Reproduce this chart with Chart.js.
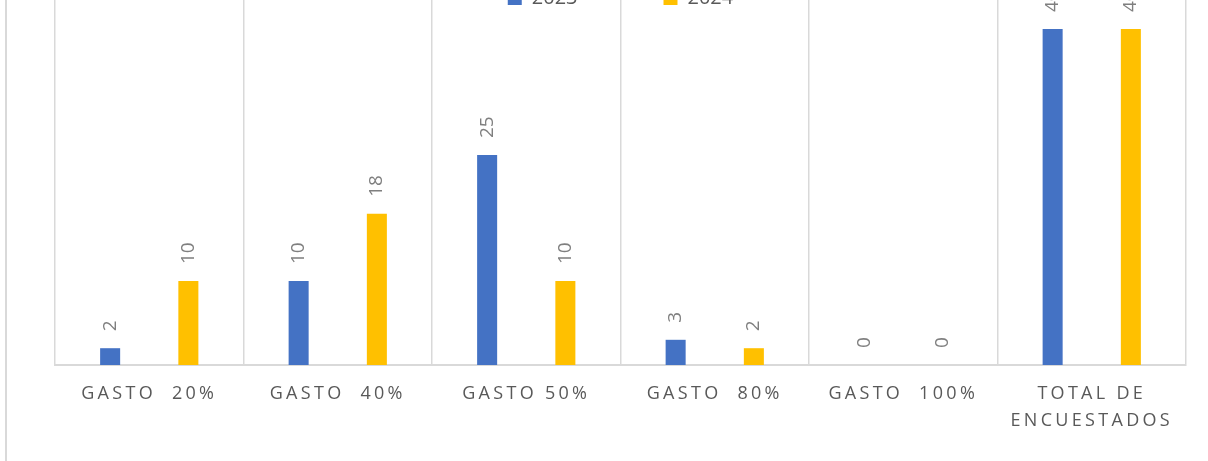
<!DOCTYPE html>
<html>
<head>
<meta charset="utf-8">
<script src="https://cdn.jsdelivr.net/npm/chart.js@4/dist/chart.umd.min.js"></script>
<style>
  body { margin: 0; width: 1208px; height: 461px; overflow: hidden; background: #fff; position: relative; }
  #frame { position: absolute; left: 5px; top: 0; height: 461px; border-left: 2px solid #d9d9d9; }
  #chart { position: absolute; left: 0; top: -129px; }
</style>
</head>
<body>
<div id="frame"></div>
<canvas id="chart" width="1208" height="594"></canvas>
<script>
// data
const categories = ['GASTO  20%', 'GASTO  40%', 'GASTO 50%', 'GASTO  80%', 'GASTO  100%', ['TOTAL DE', 'ENCUESTADOS']];
const values2023 = [2, 10, 25, 3, 0, 40];
const values2024 = [10, 18, 10, 2, 0, 40];
const seriesNames = ['2023', '2024'];

// value labels above the bars, rotated like in Excel
const barLabels = {
    id: 'barLabels',
    afterLayout(chart) {
        // legend sits over the top of the plot area
        const lg = chart.legend;
        lg.top = chart.chartArea.top - 85;
        lg.bottom = lg.top + lg.height;
    },
    afterDatasetsDraw(chart) {
        const ctx = chart.ctx;
        ctx.save();
        ctx.font = '19px "Open Sans"';
        ctx.fillStyle = '#7f7f7f';
        ctx.textAlign = 'left';
        ctx.textBaseline = 'middle';
        chart.data.datasets.forEach((ds, i) => {
            chart.getDatasetMeta(i).data.forEach((bar, j) => {
                ctx.save();
                ctx.translate(bar.x, bar.y - 17);
                ctx.rotate(-Math.PI / 2);
                ctx.fillText(String(ds.data[j]), 0, 0);
                ctx.restore();
            });
        });
        ctx.restore();
        // the x tick labels are drawn after this (ticks.z: 1), with spaced letters
        ctx.letterSpacing = '3.3px';
    },
    afterDraw(chart) {
        chart.ctx.letterSpacing = '0px';
    }
};

const ctx = document.getElementById('chart').getContext('2d');
const chart = new Chart(ctx, {
    type: 'bar',
    data: {
        labels: categories,
        datasets: [{
            label: seriesNames[0],
            data: values2023,
            backgroundColor: '#4472c4'
        }, {
            label: seriesNames[1],
            data: values2024,
            backgroundColor: '#ffc000'
        }]
    },
    options: {
        responsive: false,
        animation: false,
        categoryPercentage: 0.83,
        barPercentage: 0.256,
        layout: { padding: { left: 55, right: 22, top: 0, bottom: 0 } },
        plugins: {
            tooltip: { enabled: false },
            legend: {
                position: 'top',
                labels: {
                    boxWidth: 14,
                    boxHeight: 14,
                    padding: 86,
                    color: '#595959',
                    font: { family: 'Open Sans', size: 20 }
                }
            }
        },
        scales: {
            x: {
                grid: { color: '#d9d9d9', lineWidth: 1.5, drawTicks: false, offset: true },
                border: { color: '#d9d9d9', width: 2 },
                ticks: {
                    z: 1,
                    color: '#595959',
                    padding: 15,
                    maxRotation: 0,
                    autoSkip: false,
                    font: { family: 'Open Sans', size: 18, lineHeight: 1.5 }
                },
                afterFit(scale) { scale.height = 100; }
            },
            y: {
                display: false,
                min: 0,
                max: 45
            }
        }
    },
    plugins: [barLabels]
});
</script>
</body>
</html>
